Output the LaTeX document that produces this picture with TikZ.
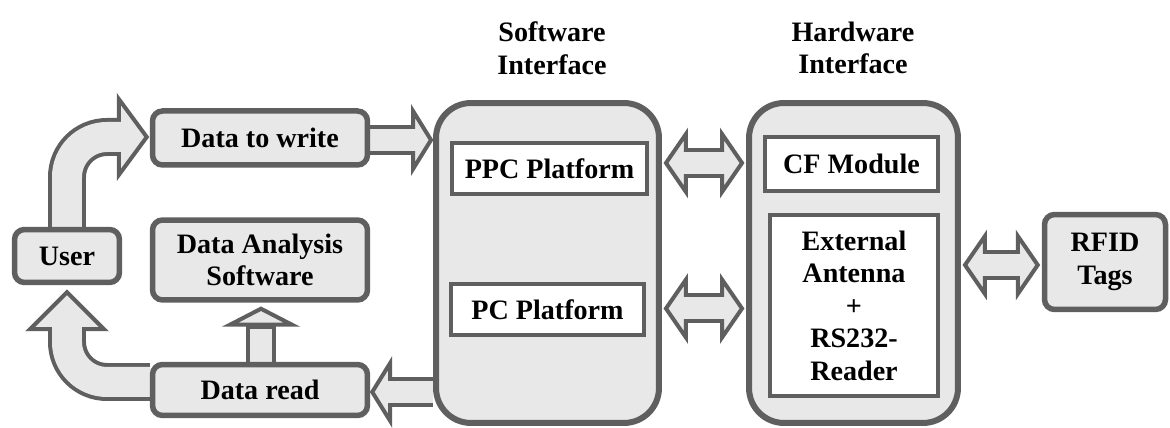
\documentclass[tikz,border=0pt]{standalone}
\usepackage{fontspec}
\setmainfont{Liberation Serif}
\usetikzlibrary{calc,backgrounds}

\definecolor{edgegray}{HTML}{5F5F5F}
\definecolor{boxgray}{HTML}{E8E8E8}

\begin{document}
\begin{tikzpicture}[x=0.02cm,y=-0.02cm,
    every node/.style={font=\bfseries\fontsize{16}{18.5}\selectfont, align=center, inner sep=0pt},
    block/.style={draw=edgegray, fill=boxgray, line width=0.11cm, rounded corners=0.2cm},
    panel/.style={draw=edgegray, fill=boxgray, line width=0.12cm, rounded corners=0.7cm,
      minimum width=#1, minimum height=6.4cm},
    unit/.style={draw=edgegray, fill=white, line width=0.08cm},
    tip/.style={draw=edgegray, fill=boxgray, line width=0.08cm},
    shaftout/.style={draw=edgegray, line width=0.6cm},
    shaftin/.style={draw=boxgray, line width=0.44cm},
    bendout/.style={draw=edgegray, line width=0.76cm, rounded corners=0.8cm},
    bendin/.style={draw=boxgray, line width=0.6cm, rounded corners=0.8cm}]
  \useasboundingbox (0,0) rectangle (1170,428);

  % column titles
  \node (swtitle) at (552,48) {Software\\Interface};
  \node (hwtitle) at (853,48) {Hardware\\Interface};

  % left side
  \node[block, minimum width=2.1cm, minimum height=1.06cm] (user) at (67,256) {User};
  \node[block, minimum width=4.3cm, minimum height=1.08cm] (write) at (260,138) {Data to write};
  \node[block, minimum width=4.3cm, minimum height=1.6cm] (analysis) at (260,260) {Data Analysis\\Software};
  \node[block, minimum width=4.3cm, minimum height=1.02cm] (read) at (260,390) {Data read};

  % the two interfaces
  \node[panel=4.46cm] (swbox) at (547.5,263) {};
  \node[panel=4.18cm] (hwbox) at (853.5,263) {};
  \node[unit, minimum width=3.9cm, minimum height=1.02cm] (ppc) at (549.5,168.5) {PPC Platform};
  \node[unit, minimum width=3.86cm, minimum height=1.02cm] (pc) at (547.5,309.5) {PC Platform};
  \node[unit, minimum width=3.46cm, minimum height=1.08cm] (cf) at (851.5,164) {CF Module};
  \node[unit, minimum width=3.36cm, minimum height=3.62cm] (ext) at (854,305.5)
    {External\\Antenna\\+\\RS232-\\Reader};

  \node[block, minimum width=2.42cm, minimum height=1.9cm] (rfid) at (1105,262) {RFID\\Tags};

  \begin{scope}[on background layer]
    % user -> data to write
    \coordinate (t1) at ($(write.west)+(-3,-1)$);
    \draw[tip] (t1) -- ++(-28,-38) -- ++(0,76) -- cycle;
    \draw[bendout] (user.north) -- (user.north |- t1) -- ($(t1)+(-28,0)$);
    \draw[bendin] (user.north) -- (user.north |- t1) -- ($(t1)+(-24,0)$);

    % data read -> user
    \coordinate (t2) at ($(user.south)+(0,7)$);
    \coordinate (r1) at ($(read.west)+(0,-8)$);
    \draw[tip] (t2) -- ++(-37,37) -- ++(74,0) -- cycle;
    \draw[bendout] (r1) -- (t2 |- r1) -- ($(t2)+(0,37)$);
    \draw[bendin] (r1) -- (t2 |- r1) -- ($(t2)+(0,33)$);

    % data to write -> software interface
    \coordinate (t3) at ($(write.east -| swbox.west)+(-2,2)$);
    \draw[tip] (t3) -- ++(-18,-29) -- ++(0,58) -- cycle;
    \draw[shaftout] ($(write.east)+(0,2)$) -- ($(t3)+(-18,0)$);
    \draw[shaftin] ($(write.east)+(0,2)$) -- ($(t3)+(-14,0)$);

    % software interface -> data read
    \coordinate (t4) at ($(read.east)+(2,2)$);
    \draw[tip] (t4) -- ++(18,-29) -- ++(0,58) -- cycle;
    \draw[shaftout] (swbox.west |- t4) -- ($(t4)+(18,0)$);
    \draw[shaftin] (swbox.west |- t4) -- ($(t4)+(14,0)$);

    % data read -> analysis
    \coordinate (t5) at ($(analysis.south)+(1,6)$);
    \draw[tip] (t5) -- ++(-31,16) -- ++(62,0) -- cycle;
    \draw[shaftout] (read.north -| t5) -- ($(t5)+(0,16)$);
    \draw[shaftin] (read.north -| t5) -- ($(t5)+(0,20)$);

    % two-way links
    \foreach \a/\b/\c/\dy in {swbox/hwbox/cf/-1, swbox/hwbox/pc/-1, hwbox/rfid/rfid/3} {
      \coordinate (l) at ($(\a.east |- \c.center)+(4,\dy)$);
      \coordinate (r) at ($(\b.west |- \c.center)+(-4,\dy)$);
      \draw[tip] (l) -- ++(20,-29) -- ++(0,58) -- cycle;
      \draw[tip] (r) -- ++(-20,-29) -- ++(0,58) -- cycle;
      \draw[shaftout] ($(l)+(20,0)$) -- ($(r)+(-20,0)$);
      \draw[shaftin] ($(l)+(16,0)$) -- ($(r)+(-16,0)$);
    }
  \end{scope}
\end{tikzpicture}
\end{document}
